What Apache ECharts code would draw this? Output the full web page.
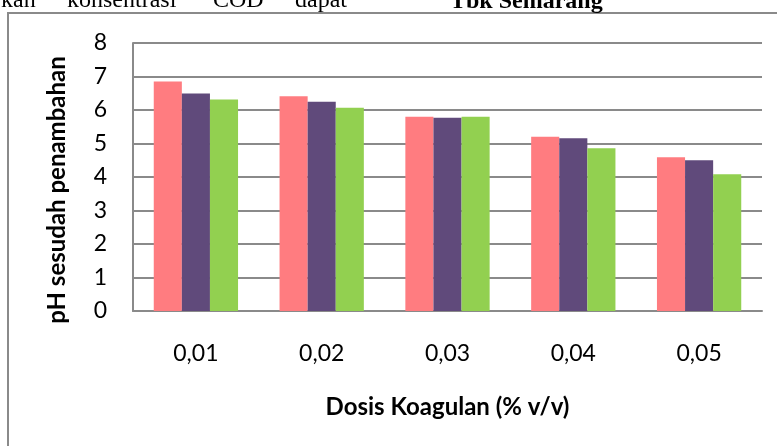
<!DOCTYPE html>
<html>
<head>
<meta charset="utf-8">
<script src="https://cdn.jsdelivr.net/npm/echarts@6/dist/echarts.min.js"></script>
<style>
  html, body { margin: 0; padding: 0; background: #ffffff; }
  #chart { width: 777px; height: 446px; }
</style>
</head>
<body>
<div id="chart"></div>
<script>
// Coagulant dose on the x axis, pH after addition on the y axis
const categories = ['0,01', '0,02', '0,03', '0,04', '0,05'];
const seriesNames = ['Ulangan 1', 'Ulangan 2', 'Ulangan 3'];
const ulangan1 = [6.85, 6.41, 5.80, 5.20, 4.59];
const ulangan2 = [6.49, 6.25, 5.77, 5.16, 4.50];
const ulangan3 = [6.31, 6.07, 5.80, 4.86, 4.08];
const yTicks = [0, 1, 2, 3, 4, 5, 6, 7, 8];
const colors = ['#FF7C80', '#604A7B', '#92D050'];

const labelFont = 'Lato, "Open Sans", sans-serif';
const serifFont = '"Liberation Serif", "Times New Roman", serif';
const gridGray = '#8a8a8a';

const chart = echarts.init(document.getElementById('chart'), null, { renderer: 'canvas' });

const values = [ulangan1, ulangan2, ulangan3];

// Fragments of the surrounding page text, cut off by the top edge
const pageWords = [
  { text: 'kan', x: 1, y: 13, bold: false, size: 24 },
  { text: 'konsentrasi', x: 67, y: 13, bold: false, size: 24 },
  { text: 'COD', x: 213, y: 13, bold: false, size: 24 },
  { text: 'dapat', x: 295, y: 13, bold: false, size: 24 },
  { text: 'Tbk Semarang', x: 450, y: 14, bold: true, size: 24 }
];

chart.setOption({
  backgroundColor: '#ffffff',
  animation: false,
  grid: { left: 133, right: 15, top: 43, bottom: 135, containLabel: false },
  xAxis: {
    type: 'category',
    data: categories,
    axisLine: { show: true, lineStyle: { color: gridGray, width: 2 } },
    axisTick: { show: false },
    axisLabel: { fontFamily: labelFont, fontSize: 23, color: '#000', margin: 31, lineHeight: 24 },
    name: 'Dosis Koagulan (% v/v)',
    nameLocation: 'middle',
    nameGap: 84,
    nameTextStyle: { fontFamily: labelFont, fontSize: 24, fontWeight: 'bold', color: '#000', lineHeight: 24 }
  },
  yAxis: {
    type: 'value',
    min: yTicks[0],
    max: yTicks[yTicks.length - 1],
    interval: 1,
    axisLine: { show: true, lineStyle: { color: gridGray, width: 2 } },
    axisTick: { show: false },
    splitLine: { show: true, lineStyle: { color: gridGray, width: 2 } },
    axisLabel: { fontFamily: labelFont, fontSize: 23, color: '#000', margin: 26 },
    name: 'pH sesudah penambahan',
    nameLocation: 'middle',
    nameGap: 64,
    nameTextStyle: { fontFamily: labelFont, fontSize: 24, fontWeight: 'bold', color: '#000', padding: [0, 26, 0, 0] }
  },
  series: seriesNames.map((name, i) => ({
    name: name,
    type: 'bar',
    data: values[i],
    barGap: '0%',
    barCategoryGap: '33%',
    itemStyle: { color: colors[i] }
  })),
  graphic: [
    {
      type: 'rect',
      shape: { x: 8, y: 13, width: 820, height: 460 },
      style: { fill: 'none', stroke: '#8a8a8a', lineWidth: 2 },
      silent: true,
      z: 0
    }
  ].concat(pageWords.map(w => ({
    type: 'text',
    x: w.x,
    y: w.y,
    silent: true,
    style: {
      text: w.text,
      fontFamily: serifFont,
      fontSize: w.size,
      fontWeight: w.bold ? 'bold' : 'normal',
      fill: '#000',
      verticalAlign: 'bottom'
    }
  })))
});
</script>
</body>
</html>
